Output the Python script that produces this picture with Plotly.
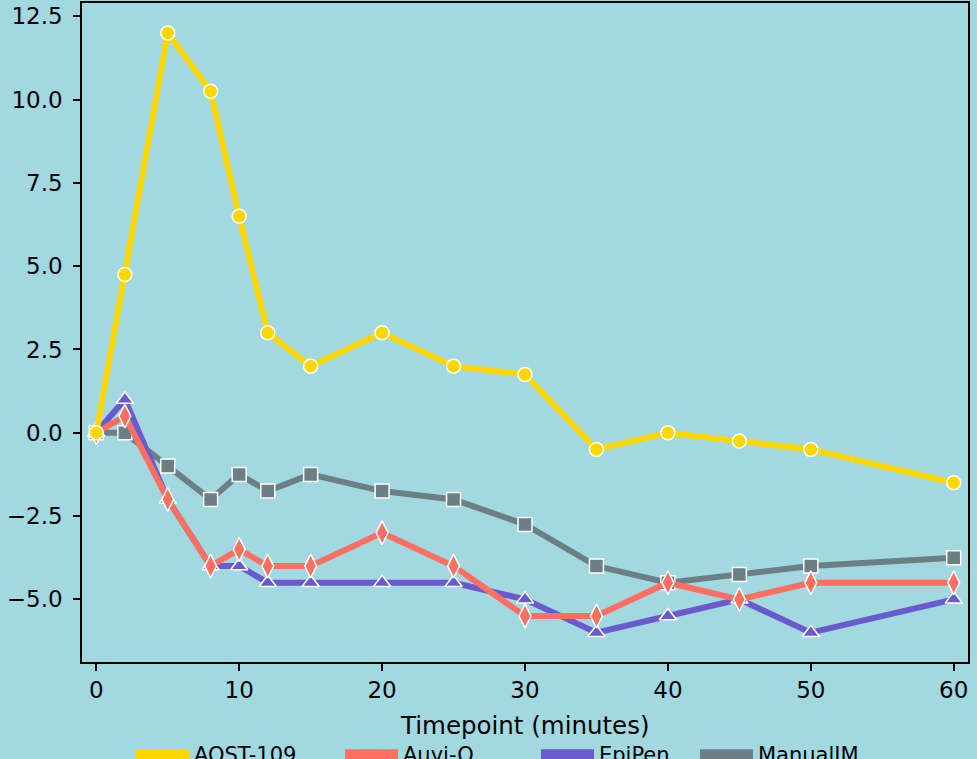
import plotly.graph_objects as go

# Time after dose (minutes)
timepoints = [0, 2, 5, 8, 10, 12, 15, 20, 25, 30, 35, 40, 45, 50, 60]

# Change from baseline per delivery method
aqst_109 = [0, 4.75, 12, 10.25, 6.5, 3, 2, 3, 2, 1.75, -0.5, 0, -0.25, -0.5, -1.5]
auvi_q = [0, 0.5, -2, -4, -3.5, -4, -4, -3, -4, -5.5, -5.5, -4.5, -5, -4.5, -4.5]
epipen = [0, 1, -2, -4, -4, -4.5, -4.5, -4.5, -4.5, -5, -6, -5.5, -5, -6, -5]
manual_im = [0, 0, -1, -2, -1.25, -1.75, -1.25, -1.75, -2, -2.75, -4, -4.5, -4.25, -4, -3.75]

series_names = ["AQST-109", "Auvi-Q", "EpiPen", "ManualIM"]
series_values = [aqst_109, auvi_q, epipen, manual_im]
colors = ["#FFD700", "#FF6F61", "#6A5ACD", "#6c7f85"]
symbols = ["circle", "diamond-tall", "triangle-up", "square"]
marker_sizes = [14, 17, 15, 14]
x_title = "Timepoint (minutes)"

BG = "#a2d8e0"
FONT = "DejaVu Sans"

fig = go.Figure()

# draw from the bottom layer up so the yellow series sits on top
for i in [3, 2, 1, 0]:
    fig.add_trace(go.Scatter(
        x=timepoints, y=series_values[i], name=series_names[i],
        mode="lines+markers",
        line=dict(color=colors[i], width=6),
        marker=dict(symbol=symbols[i], size=marker_sizes[i],
                    color=colors[i], line=dict(color="white", width=1.5)),
        showlegend=False,
    ))

# legend entries: thick swatches, one small legend per entry
legend_x = [136, 345, 541, 700]
for i, name in enumerate(series_names):
    lid = "legend" if i == 0 else f"legend{i + 1}"
    fig.add_trace(go.Scatter(
        x=[None], y=[None], name=name, mode="lines",
        line=dict(color=colors[i], width=10),
        legend=lid, showlegend=True,
    ))

legend_common = dict(
    orientation="h", xref="container", yref="container",
    xanchor="left", yanchor="top", y=(759 - 734) / 759,
    bgcolor="rgba(0,0,0,0)", borderwidth=0, itemwidth=53,
    font=dict(family=FONT, size=21, color="black"),
)
layout_legends = {}
for i in range(4):
    lid = "legend" if i == 0 else f"legend{i + 1}"
    layout_legends[lid] = dict(legend_common, x=(legend_x[i] - 5) / 977)

PLOT_TOP, PLOT_BOTTOM = 3, 662

fig.update_layout(
    width=977, height=759,
    margin=dict(l=82, r=9, t=PLOT_TOP, b=759 - PLOT_BOTTOM, autoexpand=False),
    paper_bgcolor=BG, plot_bgcolor=BG,
    font=dict(family=FONT, size=23, color="black"),
    showlegend=True,
    **layout_legends,
)

# x-axis title placed as a centred label below the tick labels
fig.add_annotation(
    text=x_title, xref="paper", x=0.5, yref="paper",
    y=-(726 - PLOT_BOTTOM) / (PLOT_BOTTOM - PLOT_TOP),
    xanchor="center", yanchor="middle", showarrow=False,
    font=dict(family=FONT, size=24.5, color="black"),
)

fig.update_xaxes(
    range=[-1, 61], tickmode="linear", tick0=0, dtick=10,
    showgrid=False, zeroline=False,
    showline=True, linecolor="black", linewidth=1.5, mirror=True,
    ticks="outside", ticklen=7, tickwidth=1.5, tickcolor="black",
)
fig.update_yaxes(
    range=[-6.88, 12.9], tickmode="linear", tick0=0, dtick=2.5, tickformat=".1f",
    showgrid=False, zeroline=False,
    showline=True, linecolor="black", linewidth=1.5, mirror=True,
    ticks="outside", ticklen=7, tickwidth=1.5, tickcolor="black",
    ticklabelstandoff=6,
)

fig.write_html("out.html")
